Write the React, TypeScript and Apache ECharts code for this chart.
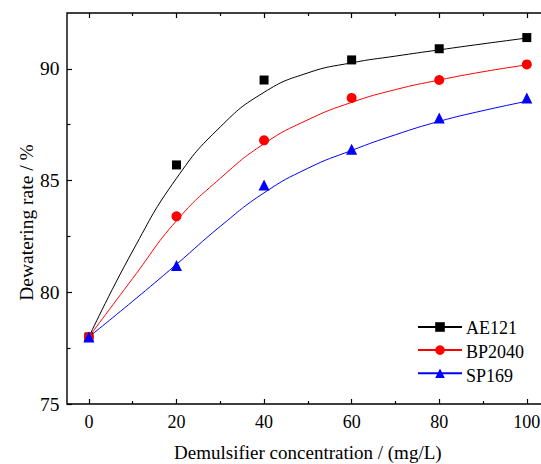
import React, { useEffect, useRef } from "react";
import * as echarts from "echarts";

// Measured points
const concentrations = [0, 20, 40, 60, 80, 100];
const ae121 = [78.0, 85.7, 89.5, 90.4, 90.9, 91.4];
const bp2040 = [78.0, 83.4, 86.8, 88.7, 89.5, 90.2];
const sp169 = [78.0, 81.2, 84.8, 86.4, 87.8, 88.7];

// Fitted curves
const fitX = [0, 10, 20, 30, 40, 50, 60, 70, 80, 90, 100];
const ae121Fit = [78.0, 81.85, 85.1, 87.4, 88.95, 89.82, 90.27, 90.57, 90.85, 91.12, 91.38];
const bp2040Fit = [78.0, 80.62, 83.2, 85.1, 86.65, 87.72, 88.5, 89.07, 89.5, 89.87, 90.18];
const sp169Fit = [78.0, 79.6, 81.25, 82.95, 84.45, 85.55, 86.35, 87.05, 87.65, 88.13, 88.55];

const xMajor = [0, 20, 40, 60, 80, 100];
const xMinor = [10, 30, 50, 70, 90];
const yMajor = [75, 80, 85, 90];
const yMinor = [77.5, 82.5, 87.5];
const xTitle = "Demulsifier concentration / (mg/L)";
const yTitle = "Dewatering rate / %";

const names = ["AE121", "BP2040", "SP169"];
const colors = ["#000000", "#ff0000", "#0000ff"];
const symbols = ["rect", "circle", "triangle"];
const symbolSizes = [9, 10, 11];

const FONT = "Liberation Serif";

export default function App() {
  const ref = useRef<HTMLDivElement>(null);
  useEffect(() => {
    if (!ref.current) return;
    const chart = echarts.init(ref.current, null, { renderer: "svg" });
    const noLine = { show: false, onZero: false };
    const mkX = (position: string, ticks: number[], len: number) => ({
      type: "value",
      position,
      min: -5,
      max: 105,
      axisLine: noLine,
      axisTick: { show: true, inside: true, length: len, customValues: ticks, lineStyle: { color: "#000", width: 1.2 } },
      axisLabel: { show: false },
      splitLine: { show: false },
    });
    const mkY = (position: string, ticks: number[], len: number) => ({
      type: "value",
      position,
      min: 75,
      max: 92.5,
      axisLine: noLine,
      axisTick: { show: true, inside: true, length: len, customValues: ticks, lineStyle: { color: "#000", width: 1.2 } },
      axisLabel: { show: false },
      splitLine: { show: false },
    });
    const fits = [ae121Fit, bp2040Fit, sp169Fit];
    const pts = [ae121, bp2040, sp169];
    const series: any[] = [];
    names.forEach((n, i) => {
      series.push({
        name: n,
        type: "line",
        xAxisIndex: 0,
        yAxisIndex: 0,
        data: fitX.map((x, j) => [x, fits[i][j]]),
        smooth: 0.5,
        showSymbol: false,
        symbol: symbols[i],
        symbolSize: symbolSizes[i],
        lineStyle: { color: colors[i], width: 1 },
        itemStyle: { color: colors[i] },
        z: 2,
      });
    });
    names.forEach((n, i) => {
      series.push({
        name: n,
        type: "scatter",
        xAxisIndex: 0,
        yAxisIndex: 0,
        data: concentrations.map((x, j) => [x, pts[i][j]]),
        symbol: symbols[i],
        symbolSize: symbolSizes[i],
        itemStyle: { color: colors[i], opacity: 1 },
        z: 3,
      });
    });
    chart.setOption({
      animation: false,
      backgroundColor: "#fff",
      grid: {
        left: 67,
        top: 13,
        width: 481.7,
        height: 391,
        containLabel: false,
        show: true,
        borderColor: "#000",
        borderWidth: 1.4,
        backgroundColor: "transparent",
      },
      legend: {
        data: names,
        orient: "vertical",
        left: 417,
        top: 321,
        padding: 0,
        itemWidth: 44,
        itemHeight: 12,
        itemGap: 12.3,
        formatter: () => "",
        textStyle: { fontSize: 1 },
      },
      xAxis: [
        mkX("bottom", xMajor, 5),
        mkX("bottom", xMinor, 3),
        mkX("top", xMajor, 5),
        mkX("top", xMinor, 3),
      ],
      yAxis: [
        mkY("left", yMajor, 5),
        mkY("left", yMinor, 3.5),
        mkY("right", yMajor, 5),
        mkY("right", yMinor, 3.5),
      ],
      series,
    });

    const px = (v: number) => chart.convertToPixel({ xAxisIndex: 0 }, v) as unknown as number;
    const py = (v: number) => chart.convertToPixel({ yAxisIndex: 0 }, v) as unknown as number;
    const left = px(-5);
    const right = px(105);
    const bottom = py(75);
    const top = py(92.5);
    const txt = (text: string, x: number, y: number, size: number, align: string, extra: any = {}) => ({
      type: "text",
      x,
      y,
      silent: true,
      z: 10,
      ...extra,
      style: { text, fill: "#000", fontFamily: FONT, fontSize: size, align, verticalAlign: "middle" },
    });
    const graphics: any[] = [];
    yMajor.forEach((v) => graphics.push(txt(String(v), left - 7.5, py(v), 19.5, "right")));
    xMajor.forEach((v) => graphics.push(txt(String(v), px(v), bottom + 18, 18, "center")));
    graphics.push(txt(xTitle, (left + right) / 2, bottom + 48.5, 19, "center"));
    graphics.push(txt(yTitle, left - 40.5, (top + bottom) / 2 + 14, 19.5, "center", { rotation: Math.PI / 2 }));
    names.forEach((n, i) => graphics.push(txt(n, 466, 327.5 + i * 24.3, 18, "left")));
    chart.setOption({ graphic: graphics });

    return () => chart.dispose();
  }, []);
  return (
    <div style={{ width: 541, height: 464, position: "absolute", left: 0, top: 0, overflow: "hidden" }}>
      <div ref={ref} style={{ width: 570, height: 464 }} />
    </div>
  );
}
